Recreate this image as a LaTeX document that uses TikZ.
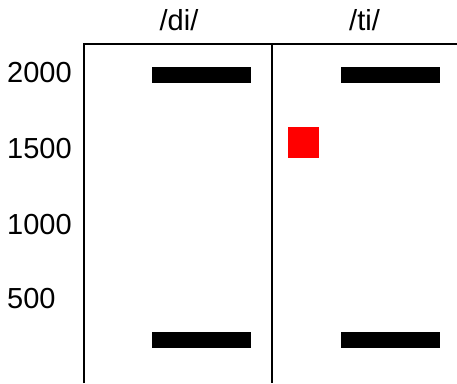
\documentclass[tikz,border=0pt]{standalone}
\usepackage{fontspec}
\setmainfont{Liberation Sans}
\begin{document}
\begin{tikzpicture}[x=1pt,y=-1pt,
  lbl/.style={inner sep=0pt,font=\fontsize{29}{33}\selectfont},
  formant/.style={fill=black,draw=none,inner sep=0pt,minimum width=99pt,minimum height=16pt},
  burst/.style={fill=red,draw=none,inner sep=0pt,minimum width=31pt,minimum height=31pt},
  frame/.style={line width=2pt}]
\useasboundingbox (0,0) rectangle (457,383);
% axes and column divider
\coordinate (tl) at (84,44);
\coordinate (tr) at (457,44);
\coordinate (bl) at (84,383);
\coordinate (tm) at (272,44);
\coordinate (bm) at (272,383);
\draw[frame] (bl) -- (tl) -- (tr);
\draw[frame] (tm) -- (bm);
% column headings
\node[lbl,anchor=base] (hdi) at (179,30) {/di/};
\node[lbl,anchor=base] (hti) at (364.5,30) {/ti/};
% frequency scale
\node[lbl,anchor=base west] (f2000) at (7,82) {2000};
\node[lbl,anchor=base west] (f1500) at (7,158) {1500};
\node[lbl,anchor=base west] (f1000) at (7,234) {1000};
\node[lbl,anchor=base west] (f500) at (7,308) {500};
% formant bars
\node[formant] (dF2) at (201.5,75) {};
\node[formant] (dF1) at (201.5,340) {};
\node[formant] (tF2) at (390.5,75) {};
\node[formant] (tF1) at (390.5,340) {};
% aspiration burst
\node[burst] (tb) at (303.5,142.5) {};
\end{tikzpicture}
\end{document}
